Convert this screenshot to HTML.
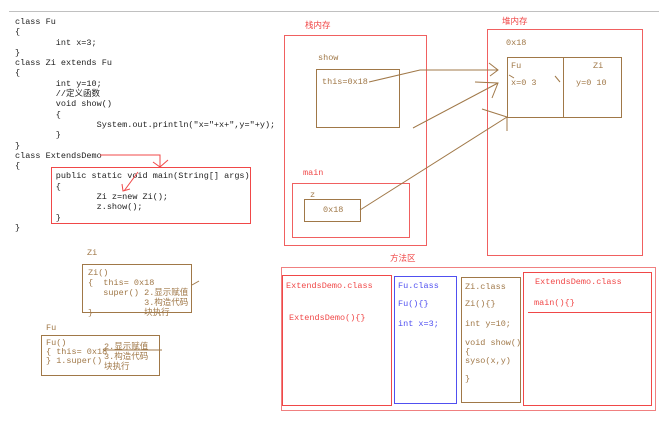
<!DOCTYPE html>
<html><head><meta charset="utf-8"><style>
body{margin:0;width:659px;height:423px;background:#fff;position:relative;overflow:hidden;font-family:"Liberation Mono","Noto Sans CJK SC",monospace;}
.t{position:absolute;font-size:8.5px;line-height:10px;white-space:pre;color:#222;}
.r{color:#f04848}.b{color:#5050f0}.br{color:#a07848}
.bx{position:absolute;box-sizing:border-box;}
</style></head><body>
<div class="bx" style="left:9px;top:11px;width:650px;height:1px;background:#c0c0c0"></div>

<div class="t" style="left:15px;top:17px;line-height:10.3px">class Fu
{
        int x=3;
}
class Zi extends Fu
{
        int y=10;
        //定义函数
        void show()
        {
                System.out.println("x="+x+",y="+y);
        }
}
class ExtendsDemo
{
        public static void main(String[] args)
        {
                Zi z=new Zi();
                z.show();
        }
}</div>

<div class="bx" style="left:51px;top:167px;width:200px;height:57px;border:1px solid #f04848"></div>

<div class="t br" style="left:87px;top:248px">Zi</div>
<div class="bx" style="left:82px;top:264px;width:110px;height:49px;border:1px solid #a07848"></div>
<div class="t br" style="left:88px;top:268px">Zi()
{  this= 0x18
   super() 2.显示赋值
           3.构造代码
}          块执行</div>

<div class="t br" style="left:46px;top:323px">Fu</div>
<div class="bx" style="left:41px;top:335px;width:119px;height:41px;border:1px solid #a07848"></div>
<div class="t br" style="left:46px;top:339px;line-height:9px">Fu()
{ this= 0x18
} 1.super()</div>
<div class="t br" style="left:104px;top:342px;line-height:10px">2.显示赋值
3.构造代码
块执行</div>

<div class="t r" style="left:305px;top:21px">栈内存</div>
<div class="bx" style="left:284px;top:35px;width:143px;height:211px;border:1px solid #f06060"></div>
<div class="t br" style="left:318px;top:53px">show</div>
<div class="bx" style="left:316px;top:69px;width:84px;height:59px;border:1px solid #a07848"></div>
<div class="t br" style="left:322px;top:77px">this=0x18</div>
<div class="t r" style="left:303px;top:168px">main</div>
<div class="bx" style="left:292px;top:183px;width:118px;height:55px;border:1px solid #f06060"></div>
<div class="t br" style="left:310px;top:190px">z</div>
<div class="bx" style="left:304px;top:199px;width:57px;height:23px;border:1px solid #a07848"></div>
<div class="t br" style="left:323px;top:205px">0x18</div>

<div class="t r" style="left:502px;top:17px">堆内存</div>
<div class="bx" style="left:487px;top:29px;width:156px;height:227px;border:1px solid #f06060"></div>
<div class="t br" style="left:506px;top:38px">0x18</div>
<div class="bx" style="left:507px;top:57px;width:115px;height:61px;border:1px solid #a07848"></div>
<div class="bx" style="left:563px;top:57px;width:1px;height:61px;background:#a07848"></div>
<div class="t br" style="left:511px;top:61px">Fu</div>
<div class="t br" style="left:511px;top:78px">x=0 3</div>
<div class="t br" style="left:593px;top:61px">Zi</div>
<div class="t br" style="left:576px;top:78px">y=0 10</div>

<div class="t r" style="left:390px;top:254px">方法区</div>
<div class="bx" style="left:281px;top:267px;width:375px;height:144px;border:1px solid #f08080"></div>
<div class="bx" style="left:282px;top:275px;width:110px;height:131px;border:1px solid #f04848"></div>
<div class="t r" style="left:286px;top:281px">ExtendsDemo.class</div>
<div class="t r" style="left:289px;top:313px">ExtendsDemo(){}</div>
<div class="bx" style="left:394px;top:276px;width:63px;height:128px;border:1px solid #5050f0"></div>
<div class="t b" style="left:398px;top:281px">Fu.class</div>
<div class="t b" style="left:398px;top:299px">Fu(){}</div>
<div class="t b" style="left:398px;top:319px">int x=3;</div>
<div class="bx" style="left:461px;top:277px;width:60px;height:126px;border:1px solid #a07848"></div>
<div class="t br" style="left:465px;top:282px">Zi.class</div>
<div class="t br" style="left:465px;top:299px">Zi(){}</div>
<div class="t br" style="left:465px;top:319px">int y=10;</div>
<div class="t br" style="left:465px;top:339px;line-height:9px">void show()
{
syso(x,y)

}</div>
<div class="bx" style="left:523px;top:272px;width:129px;height:134px;border:1px solid #f04848"></div>
<div class="bx" style="left:528px;top:312px;width:124px;height:1px;background:#f04848"></div>
<div class="t r" style="left:535px;top:277px">ExtendsDemo.class</div>
<div class="t r" style="left:534px;top:298px">main(){}</div>

<svg width="659" height="423" style="position:absolute;left:0;top:0" fill="none">
<g stroke="#f04848" stroke-width="1">
<polyline points="100,155 160,155 160,167"/>
<polyline points="153,162 160,167 168,160"/>
<line x1="138" y1="172" x2="124" y2="191"/>
<polyline points="122,184 123,191 130,189"/>
</g>
<g stroke="#a07848" stroke-width="1">
<polyline points="369,82 420,70 498,70"/>
<polyline points="489,63 498,70 490,76"/>
<line x1="413" y1="128" x2="498" y2="83"/>
<polyline points="475,82 498,83 492,98"/>
<line x1="360" y1="210" x2="507" y2="117"/>
<polyline points="482,109 507,117 507,131"/>
<line x1="555" y1="76" x2="560" y2="82"/>
<line x1="509" y1="75" x2="514" y2="78"/>
<line x1="192" y1="285" x2="199" y2="281"/>
<line x1="103" y1="350" x2="162" y2="350"/>
</g>
</svg>
</body></html>
